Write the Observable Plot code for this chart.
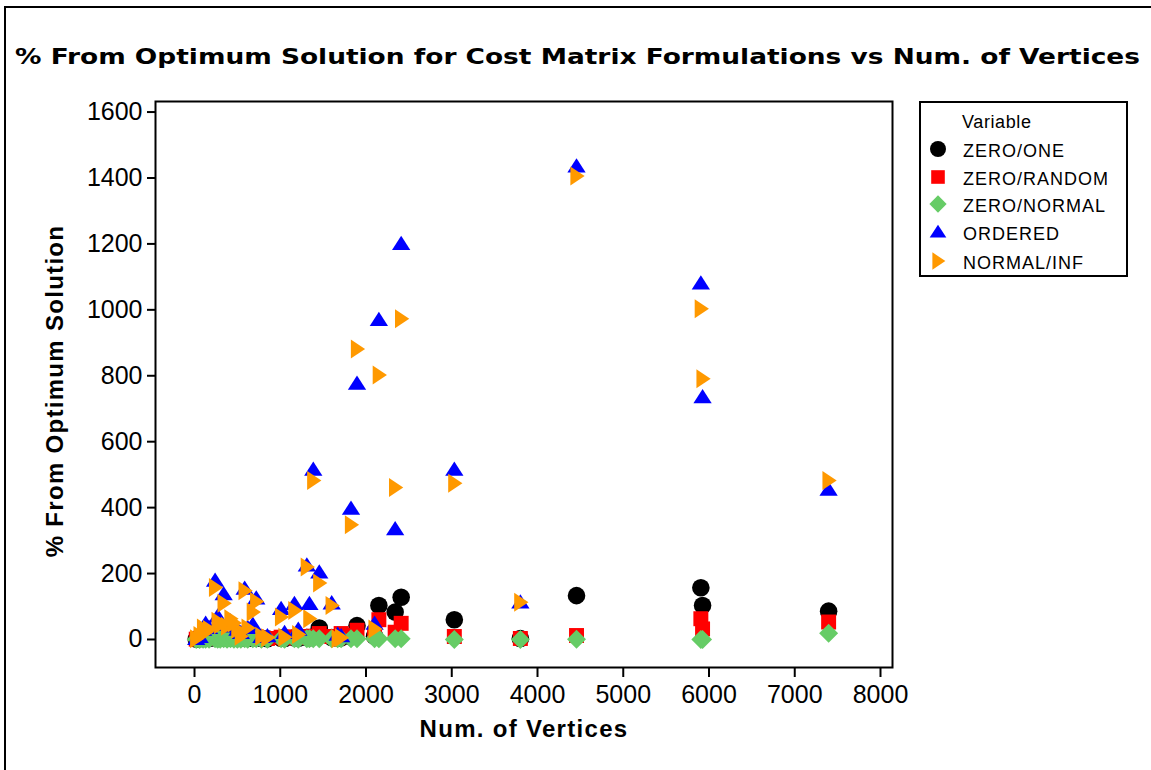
<!DOCTYPE html>
<html><head><meta charset="utf-8">
<script src="https://cdn.jsdelivr.net/npm/d3@7"></script>
<script src="https://cdn.jsdelivr.net/npm/@observablehq/plot@0.6"></script>
<style>
html,body{margin:0;padding:0;background:#fff;}
#chart{position:relative;width:1151px;height:770px;overflow:hidden;background:#fff;}
#chart svg{position:absolute;left:0;top:0;}
#border{position:absolute;left:4px;top:6px;width:1200px;height:800px;border-top:2px solid #000;border-left:2px solid #000;pointer-events:none;}
</style></head><body><div id="chart"></div>
<script>
const titleText = "% From Optimum Solution for Cost Matrix Formulations vs Num. of Vertices";
const xTitle = "Num. of Vertices";
const yTitle = "% From Optimum Solution";
const legendTitle = "Variable";
const seriesNames = ["ZERO/ONE", "ZERO/RANDOM", "ZERO/NORMAL", "ORDERED", "NORMAL/INF"];
const seriesColors = ["#000000", "#ff0000", "#66cc66", "#0000ff", "#ff9900"];
const xTicks = [0, 1000, 2000, 3000, 4000, 5000, 6000, 7000, 8000];
const yTicks = [0, 200, 400, 600, 800, 1000, 1200, 1400, 1600];

// problem instances (number of vertices)
const vertices = [20, 60, 100, 130, 170, 240, 270, 300, 340, 380, 420, 460, 500, 540, 585, 620, 680, 720, 780, 850, 1010, 1050, 1165, 1210, 1310, 1340, 1385, 1455, 1600, 1670, 1710, 1825, 1895, 2100, 2150, 2340, 2410, 3030, 3800, 4455, 5905, 5925, 7395];
const zeroOne    = [1, 2, 3, 4, 3, 5, 3, 4, 6, 3, 5, 4, 3, 4, 6, 3, 5, 6, 3, 2, 4, 3, 5, 4, 6, 5, 8, 35, 6, 4, 5, 8, 42, 10, 103, 83, 128, 60, 3, 133, 157, 103, 86];
const zeroRandom = [1, 3, 4, 6, 5, 7, 4, 5, 8, 4, 7, 5, 3, 6, 9, 4, 7, 8, 4, 3, 7, 5, 8, 6, 9, 7, 10, 18, 9, 5, 18, 12, 28, 17, 60, 22, 49, 9, 3, 12, 63, 32, 53];
const zeroNormal = [0, 0, 1, 1, 1, 2, 1, 1, 2, 1, 2, 1, 1, 1, 2, 1, 2, 2, 1, 1, 2, 1, 2, 1, 2, 2, 2, 2, 2, 2, 2, 2, 2, 2, 2, 2, 2, 0, 0, 1, 0, 0, 19];
const ordered    = [2, 8, 30, 48, 35, 179, 70, 50, 138, 45, 55, 40, 30, 20, 154, 35, 45, 125, 8, 10, 93, 20, 108, 30, 225, 108, 515, 204, 110, 15, 10, 397, 776, 48, 970, 335, 1200, 515, 113, 1435, 1080, 735, 455];
const normalInf  = [2, 12, 35, 22, 30, 158, 55, 45, 110, 40, 63, 50, 30, 10, 148, 35, 83, 115, 10, 5, 68, 7, 88, 15, 220, 63, 482, 171, 103, 2, 5, 348, 881, 32, 802, 461, 973, 474, 113, 1406, 1003, 791, 482];
const seriesValues = [zeroOne, zeroRandom, zeroNormal, ordered, normalInf];

// marker shapes
const symCircle = {draw(c, size){const r=Math.sqrt(size/Math.PI); c.moveTo(r,0); c.arc(0,0,r,0,2*Math.PI); c.closePath();}};
const symSquare = {draw(c, size){const r=Math.sqrt(size/Math.PI), h=0.85*r; c.rect(-h,-h,2*h,2*h);}};
const symDiamond = {draw(c, size){const r=Math.sqrt(size/Math.PI), h=1.08*r; c.moveTo(0,-h); c.lineTo(h,0); c.lineTo(0,h); c.lineTo(-h,0); c.closePath();}};
const symTriUp = {draw(c, size){const r=Math.sqrt(size/Math.PI); c.moveTo(0,-0.92*r); c.lineTo(1.04*r,0.7*r); c.lineTo(-1.04*r,0.7*r); c.closePath();}};
const symTriRight = {draw(c, size){const r=Math.sqrt(size/Math.PI); c.moveTo(-0.7*r,-1.08*r); c.lineTo(0.92*r,0); c.lineTo(-0.7*r,1.08*r); c.closePath();}};
const seriesSymbols = [symCircle, symSquare, symDiamond, symTriUp, symTriRight];

const W = 1151, H = 770;
const frameL = 155, frameR = 892, frameT = 101, frameB = 667;
const markR = 8.8;

const dotMarks = seriesNames.map((name, s) =>
  Plot.dot(vertices.map((v, i) => ({x: v, y: seriesValues[s][i], series: name})), {
    x: "x", y: "y", r: markR, symbol: seriesSymbols[s], fill: seriesColors[s], stroke: "none"
  })
);

const plot = Plot.plot({
  width: W, height: H,
  marginLeft: frameL, marginRight: W - frameR, marginTop: frameT, marginBottom: H - frameB,
  style: {fontFamily: "Liberation Sans, Arial, sans-serif", fontSize: "25px", background: "transparent", color: "#000"},
  x: {domain: [-455, 8140], ticks: xTicks},
  y: {domain: [-85, 1632], ticks: yTicks},
  marks: [
    ...dotMarks,
    Plot.frame({stroke: "#000", strokeWidth: 2}),
    Plot.axisX({ticks: xTicks, tickSize: 10, tickPadding: 8, strokeWidth: 2, tickFormat: d3.format("d"), label: null, fontSize: 25}),
    Plot.axisY({ticks: yTicks, tickSize: 8, tickPadding: 5, strokeWidth: 2, tickFormat: d3.format("d"), label: null, fontSize: 25})
  ]
});

const chart = document.getElementById("chart");
chart.appendChild(plot);
const border = document.createElement("div");
border.id = "border";
chart.appendChild(border);

const svg = d3.select(plot);
svg.append("text")
  .attr("x", 15).attr("y", 64).attr("text-anchor", "start")
  .attr("font-family", "DejaVu Sans, sans-serif").attr("font-weight", "bold").attr("font-size", 21)
  .attr("textLength", 1125).attr("lengthAdjust", "spacingAndGlyphs")
  .attr("fill", "#000").text(titleText);
svg.append("text")
  .attr("x", 524).attr("y", 737).attr("text-anchor", "middle")
  .attr("font-family", "Liberation Sans, Arial, sans-serif").attr("font-weight", "bold").attr("font-size", 24)
  .attr("letter-spacing", "1.3px").attr("fill", "#000").text(xTitle);
svg.append("text")
  .attr("transform", "translate(63,391) rotate(-90)").attr("text-anchor", "middle")
  .attr("font-family", "Liberation Sans, Arial, sans-serif").attr("font-weight", "bold").attr("font-size", 24)
  .attr("letter-spacing", "1.3px").attr("fill", "#000").text(yTitle);

// legend
const lg = svg.append("g").attr("font-family", "Liberation Sans, Arial, sans-serif").attr("font-size", 18).attr("text-anchor", "start");
lg.append("rect").attr("x", 920).attr("y", 102).attr("width", 207).attr("height", 174)
  .attr("fill", "none").attr("stroke", "#000").attr("stroke-width", 2);
lg.append("text").attr("x", 962).attr("y", 128).attr("letter-spacing", "0.6px").attr("fill", "#000").text(legendTitle);
const swatchY = [149, 177, 204, 232, 261];
seriesNames.forEach((name, s) => {
  lg.append("path")
    .attr("transform", `translate(938,${swatchY[s]})`)
    .attr("d", d3.symbol(seriesSymbols[s], 64 * Math.PI)())
    .attr("fill", seriesColors[s]);
  lg.append("text").attr("x", 963).attr("y", swatchY[s] + 8)
    .attr("letter-spacing", "1px").attr("fill", "#000").text(name);
});
</script></body></html>
